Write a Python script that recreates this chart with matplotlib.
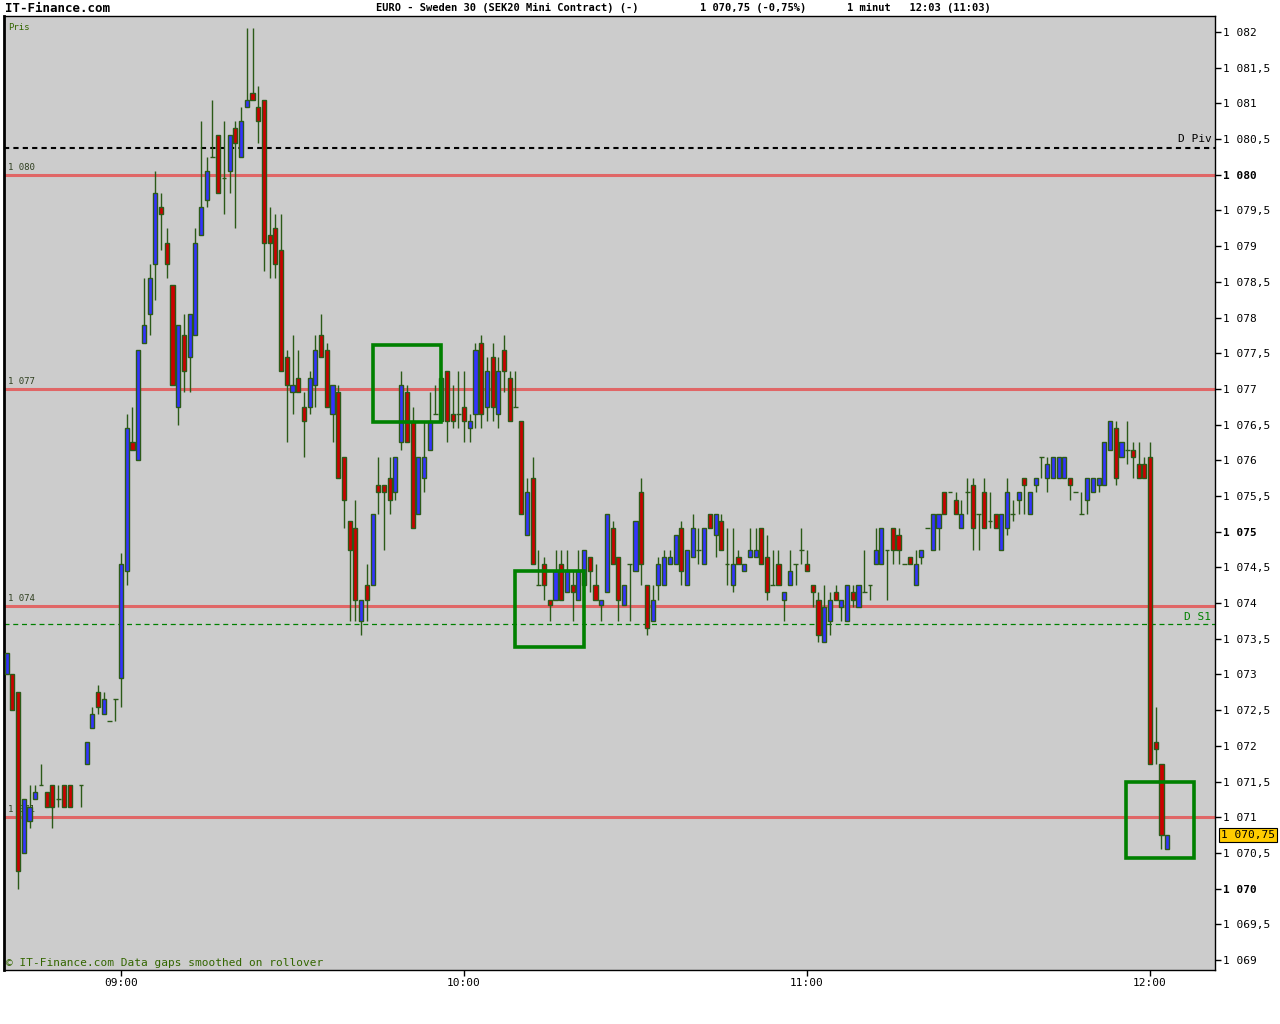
import numpy as np
import matplotlib.pyplot as plt
from matplotlib.patches import Rectangle
import matplotlib.transforms as mtransforms

# 1-minute candles, first one at 08:40 (index 12 = no trade)
opens = [1073.0, 1073.0, 1072.75, 1070.5, 1070.95, 1071.25, 1071.45, 1071.35, 1071.45, 1071.25,
         1071.45, 1071.45, None, 1071.45, 1071.75, 1072.25, 1072.75, 1072.45, 1072.35, 1072.65,
         1072.95, 1074.45, 1076.25, 1076.0, 1077.65, 1078.05, 1078.75, 1079.55, 1079.05, 1078.45,
         1076.75, 1077.75, 1077.45, 1077.75, 1079.15, 1079.65, 1080.25, 1080.55, 1079.95, 1080.05,
         1080.65, 1080.25, 1080.95, 1081.15, 1080.95, 1081.05, 1079.15, 1079.25, 1078.95, 1077.45,
         1076.95, 1077.15, 1076.75, 1076.75, 1077.05, 1077.75, 1077.55, 1076.65, 1076.95, 1076.05,
         1075.15, 1075.05, 1073.75, 1074.25, 1074.25, 1075.65, 1075.65, 1075.75, 1075.55, 1076.25,
         1076.95, 1076.55, 1075.25, 1075.75, 1076.15, 1076.65, 1076.55, 1077.25, 1076.65, 1076.65,
         1076.75, 1076.45, 1076.65, 1077.65, 1076.75, 1077.45, 1076.65, 1077.55, 1077.15, 1076.75,
         1076.55, 1074.95, 1075.75, 1074.25, 1074.55, 1074.05, 1074.05, 1074.55, 1074.15, 1074.25,
         1074.05, 1074.25, 1074.65, 1074.25, 1073.98, 1074.15, 1075.05, 1074.65, 1073.98, 1074.55,
         1074.45, 1075.55, 1074.25, 1073.75, 1074.25, 1074.25, 1074.55, 1074.55, 1075.05, 1074.25,
         1074.65, 1074.75, 1074.55, 1075.25, 1074.95, 1075.15, 1074.55, 1074.25, 1074.65, 1074.45,
         1074.65, 1074.65, 1075.05, 1074.65, 1074.25, 1074.55, 1074.05, 1074.25, 1074.55, 1074.75,
         1074.55, 1074.25, 1074.05, 1073.45, 1073.75, 1074.15, 1073.95, 1073.75, 1074.15, 1073.95,
         1074.15, 1074.25, 1074.55, 1074.55, 1074.75, 1075.05, 1074.95, 1074.55, 1074.65, 1074.25,
         1074.65, 1075.05, 1074.75, 1075.05, 1075.55, 1075.55, 1075.45, 1075.05, 1075.55, 1075.65,
         1075.25, 1075.55, 1075.15, 1075.25, 1074.75, 1075.05, 1075.25, 1075.45, 1075.75, 1075.25,
         1075.65, 1076.05, 1075.75, 1075.75, 1075.75, 1075.75, 1075.75, 1075.55, 1075.25, 1075.45,
         1075.55, 1075.65, 1075.65, 1076.15, 1076.45, 1076.05, 1076.15, 1076.15, 1075.95, 1075.95,
         1076.05, 1072.05, 1071.75, 1070.55]
highs = [1073.3, 1073.0, 1072.75, 1071.25, 1071.45, 1071.45, 1071.75, 1071.35, 1071.45, 1071.45,
         1071.45, 1071.45, None, 1071.45, 1072.05, 1072.55, 1072.85, 1072.75, 1072.35, 1072.65,
         1074.7, 1076.65, 1076.75, 1077.55, 1078.55, 1078.75, 1080.05, 1079.75, 1079.25, 1078.45,
         1077.9, 1078.05, 1078.05, 1079.25, 1080.75, 1080.25, 1081.05, 1080.55, 1080.75, 1080.55,
         1080.75, 1080.95, 1082.05, 1082.05, 1081.25, 1081.05, 1079.55, 1079.45, 1079.45, 1077.55,
         1077.75, 1077.55, 1076.95, 1077.25, 1077.75, 1078.05, 1077.65, 1077.05, 1077.05, 1076.05,
         1075.15, 1075.45, 1074.05, 1074.55, 1075.25, 1076.05, 1075.65, 1076.05, 1076.05, 1077.25,
         1077.05, 1076.75, 1076.05, 1076.55, 1076.95, 1077.05, 1077.25, 1077.25, 1077.05, 1077.25,
         1077.25, 1076.65, 1077.65, 1077.75, 1077.45, 1077.65, 1077.45, 1077.75, 1077.25, 1077.25,
         1076.55, 1075.75, 1076.05, 1074.75, 1074.65, 1074.05, 1074.75, 1074.75, 1074.75, 1074.45,
         1074.75, 1074.75, 1074.65, 1074.55, 1074.05, 1075.25, 1075.15, 1074.65, 1074.25, 1074.55,
         1075.15, 1075.75, 1074.25, 1074.25, 1074.65, 1074.75, 1074.75, 1074.95, 1075.15, 1074.75,
         1075.25, 1075.05, 1075.05, 1075.25, 1075.25, 1075.25, 1075.05, 1075.05, 1074.75, 1074.55,
         1075.05, 1075.05, 1075.05, 1074.95, 1074.75, 1074.75, 1074.15, 1074.75, 1074.55, 1075.05,
         1074.75, 1074.25, 1074.15, 1074.25, 1074.15, 1074.25, 1074.05, 1074.25, 1074.25, 1074.25,
         1074.75, 1074.25, 1075.05, 1075.05, 1074.75, 1075.05, 1075.05, 1074.55, 1074.65, 1074.75,
         1074.75, 1075.05, 1075.25, 1075.25, 1075.55, 1075.55, 1075.55, 1075.45, 1075.75, 1075.75,
         1075.25, 1075.75, 1075.55, 1075.25, 1075.25, 1075.75, 1075.45, 1075.55, 1075.75, 1075.55,
         1075.75, 1076.05, 1076.05, 1076.05, 1076.05, 1076.05, 1075.75, 1075.55, 1075.55, 1075.75,
         1075.75, 1075.75, 1076.25, 1076.55, 1076.55, 1076.25, 1076.55, 1076.25, 1076.25, 1076.05,
         1076.25, 1072.55, 1071.75, 1070.75]
lows = [1073.0, 1072.5, 1070.0, 1070.5, 1070.85, 1071.25, 1071.45, 1071.15, 1070.85, 1071.15,
        1071.15, 1071.15, None, 1071.15, 1071.75, 1072.25, 1072.45, 1072.45, 1072.35, 1072.35,
        1072.55, 1074.25, 1076.15, 1076.0, 1077.65, 1077.75, 1078.25, 1078.95, 1078.55, 1077.05,
        1076.5, 1076.95, 1076.95, 1077.75, 1079.15, 1079.55, 1080.25, 1079.75, 1079.45, 1079.75,
        1079.25, 1080.25, 1080.95, 1081.05, 1080.45, 1078.65, 1078.55, 1078.55, 1077.25, 1076.25,
        1076.65, 1076.95, 1076.05, 1076.65, 1076.75, 1077.45, 1076.75, 1076.25, 1075.75, 1075.05,
        1073.75, 1073.75, 1073.55, 1073.75, 1074.25, 1075.25, 1074.75, 1075.25, 1075.45, 1076.15,
        1076.25, 1075.05, 1075.25, 1075.55, 1076.15, 1076.65, 1076.55, 1076.25, 1076.45, 1076.45,
        1076.25, 1076.25, 1076.45, 1076.45, 1076.55, 1076.55, 1076.45, 1076.95, 1076.55, 1076.75,
        1075.25, 1074.95, 1074.55, 1074.25, 1074.05, 1073.75, 1074.05, 1074.05, 1074.15, 1073.75,
        1074.05, 1074.25, 1074.15, 1074.05, 1073.75, 1074.15, 1074.55, 1073.75, 1073.98, 1073.75,
        1074.45, 1074.25, 1073.55, 1073.75, 1074.05, 1074.25, 1074.55, 1074.55, 1074.25, 1074.25,
        1074.65, 1074.55, 1074.55, 1075.05, 1074.65, 1074.75, 1074.25, 1074.15, 1074.55, 1074.45,
        1074.65, 1074.65, 1074.55, 1074.05, 1074.25, 1074.25, 1073.75, 1074.25, 1074.25, 1074.55,
        1074.45, 1073.95, 1073.45, 1073.45, 1073.55, 1074.05, 1073.75, 1073.75, 1073.95, 1073.95,
        1074.15, 1074.05, 1074.55, 1074.55, 1074.05, 1074.55, 1074.55, 1074.55, 1074.55, 1074.25,
        1074.55, 1075.05, 1074.75, 1074.75, 1075.25, 1075.55, 1075.25, 1075.05, 1075.25, 1074.75,
        1074.75, 1075.05, 1075.05, 1075.05, 1074.75, 1074.95, 1075.15, 1075.25, 1075.25, 1075.25,
        1075.55, 1075.75, 1075.55, 1075.75, 1075.75, 1075.75, 1075.45, 1075.55, 1075.25, 1075.25,
        1075.55, 1075.55, 1075.65, 1076.15, 1075.65, 1076.05, 1075.95, 1075.75, 1075.75, 1075.75,
        1071.75, 1071.75, 1070.55, 1070.55]
closes = [1073.3, 1072.5, 1070.25, 1071.25, 1071.15, 1071.35, 1071.45, 1071.15, 1071.15, 1071.25,
          1071.15, 1071.15, None, 1071.45, 1072.05, 1072.45, 1072.55, 1072.65, 1072.35, 1072.65,
          1074.55, 1076.45, 1076.15, 1077.55, 1077.9, 1078.55, 1079.75, 1079.45, 1078.75, 1077.05,
          1077.9, 1077.25, 1078.05, 1079.05, 1079.55, 1080.05, 1080.25, 1079.75, 1079.95, 1080.55,
          1080.45, 1080.75, 1081.05, 1081.05, 1080.75, 1079.05, 1079.05, 1078.75, 1077.25, 1077.05,
          1077.05, 1076.95, 1076.55, 1077.15, 1077.55, 1077.45, 1076.75, 1077.05, 1075.75, 1075.45,
          1074.75, 1074.05, 1074.05, 1074.05, 1075.25, 1075.55, 1075.55, 1075.45, 1076.05, 1077.05,
          1076.25, 1075.05, 1076.05, 1076.05, 1076.55, 1076.65, 1077.15, 1076.55, 1076.55, 1076.65,
          1076.55, 1076.55, 1077.55, 1076.65, 1077.25, 1076.75, 1077.25, 1077.25, 1076.55, 1076.75,
          1075.25, 1075.55, 1074.55, 1074.25, 1074.25, 1073.98, 1074.45, 1074.05, 1074.45, 1074.15,
          1074.45, 1074.75, 1074.45, 1074.05, 1074.05, 1075.25, 1074.55, 1074.05, 1074.25, 1074.55,
          1075.15, 1074.55, 1073.65, 1074.05, 1074.55, 1074.65, 1074.65, 1074.95, 1074.45, 1074.75,
          1075.05, 1074.75, 1075.05, 1075.05, 1075.25, 1074.75, 1074.55, 1074.55, 1074.55, 1074.55,
          1074.75, 1074.75, 1074.55, 1074.15, 1074.25, 1074.25, 1074.15, 1074.45, 1074.55, 1074.75,
          1074.45, 1074.15, 1073.55, 1073.95, 1074.05, 1074.05, 1074.05, 1074.25, 1074.05, 1074.25,
          1074.15, 1074.25, 1074.75, 1075.05, 1074.75, 1074.75, 1074.75, 1074.55, 1074.55, 1074.55,
          1074.75, 1075.05, 1075.25, 1075.25, 1075.25, 1075.55, 1075.25, 1075.25, 1075.55, 1075.05,
          1075.25, 1075.05, 1075.15, 1075.05, 1075.25, 1075.55, 1075.25, 1075.55, 1075.65, 1075.55,
          1075.75, 1076.05, 1075.95, 1076.05, 1076.05, 1076.05, 1075.65, 1075.55, 1075.25, 1075.75,
          1075.75, 1075.75, 1076.25, 1076.55, 1075.75, 1076.25, 1076.15, 1076.05, 1075.75, 1075.75,
          1071.75, 1071.95, 1070.75, 1070.75]

# horizontal levels
red_levels = [1080.0, 1077.0, 1073.96, 1071.0]
red_labels = ['1 080', '1 077', '1 074', '1 071']
d_piv = 1080.375
d_s1 = 1073.71
last_price = 1070.75

time_ticks = [20, 80, 140, 200]
time_labels = ['09:00', '10:00', '11:00', '12:00']

def num(v):
    return np.nan if v is None else v

o = np.array([num(v) for v in opens])
h = np.array([num(v) for v in highs])
l = np.array([num(v) for v in lows])
c = np.array([num(v) for v in closes])
x = np.arange(len(o))

edge = '#2B5A18'
blue = '#3333FF'
red = '#CC0000'
mono = 'DejaVu Sans Mono'

fig = plt.figure(figsize=(12.8, 10.24), dpi=100)
ax = fig.add_axes([4 / 1280, 1 - 970 / 1024, 1211 / 1280, 954 / 1024])
ax.set_facecolor('#CCCCCC')

# levels
for lv in red_levels:
    ax.axhline(lv, color='#E06666', lw=2.2, zorder=1)
ax.axhline(d_piv, color='black', lw=1.5, ls=(0, (2.5, 2)), zorder=1)
ax.axhline(d_s1, color='#008000', lw=0.9, ls=(0, (4, 3)), zorder=1)

# candles
valid = ~np.isnan(o)
up = valid & (c > o)
down = valid & (c < o)
flat = valid & (c == o)
ax.vlines(x[valid], l[valid], h[valid], color=edge, lw=1.0, zorder=2)
ax.bar(x[up], (c - o)[up], bottom=o[up], width=0.72, color=blue,
       edgecolor=edge, lw=1.0, zorder=3)
ax.bar(x[down], (o - c)[down], bottom=c[down], width=0.72, color=red,
       edgecolor=edge, lw=1.0, zorder=3)
ax.hlines(o[flat], x[flat] - 0.42, x[flat] + 0.42, color=edge, lw=1.0, zorder=3)

# highlight boxes
for (x0, x1, y0, y1) in [(64.1, 76.0, 1076.54, 1077.615),
                         (88.9, 101.0, 1073.385, 1074.45),
                         (195.8, 207.7, 1070.43, 1071.49)]:
    ax.add_patch(Rectangle((x0, y0), x1 - x0, y1 - y0, fill=False,
                           edgecolor='#008000', lw=2.6, zorder=4))

ax.set_xlim(-0.47, 211.36)
ax.set_ylim(1068.86, 1082.224)

# axes styling
for s in ax.spines.values():
    s.set_color('black')
    s.set_linewidth(1.0)
ax.spines['left'].set_linewidth(2.0)

ax.yaxis.tick_right()
yt = np.arange(1069.0, 1082.01, 0.5)
ax.set_yticks(yt)
ylabels = []
for v in yt:
    s = f'{v:.1f}'.replace('.', ',')
    s = s[:-2] if s.endswith(',0') else s
    ylabels.append(s[0] + ' ' + s[1:])
ax.set_yticklabels(ylabels, fontfamily=mono, fontsize=8)
for v, t in zip(yt, ax.get_yticklabels()):
    if v % 5 == 0:
        t.set_fontweight('bold')
ax.tick_params(axis='y', length=4, width=1, pad=2, colors='black')

ax.set_xticks(time_ticks)
ax.set_xticklabels(time_labels, fontfamily=mono, fontsize=8)
ax.tick_params(axis='x', length=4, width=1, pad=2)

blend = mtransforms.blended_transform_factory(ax.transAxes, ax.transData)
for lv, lab in zip(red_levels, red_labels):
    ax.text(0.003, lv + 0.04, lab, transform=blend, fontfamily=mono, fontsize=6.5,
            color='#2F3F1F', va='bottom', ha='left', zorder=1.5)
ax.text(0.997, d_piv + 0.05, 'D Piv', transform=blend, fontfamily=mono, fontsize=8,
        color='black', va='bottom', ha='right')
ax.text(0.997, d_s1 + 0.03, 'D S1', transform=blend, fontfamily=mono, fontsize=8,
        color='#008000', va='bottom', ha='right')
ax.text(1.005, last_price, '1 070,75', transform=blend, fontfamily=mono, fontsize=8,
        va='center', ha='left', clip_on=False,
        bbox=dict(boxstyle='square,pad=0.15', fc='#FFCC00', ec='black', lw=0.8))

ax.text(0.003, 0.993, 'Pris', transform=ax.transAxes, fontfamily=mono, fontsize=6.5,
        color='#336600', va='top', ha='left')
ax.text(0.002, 0.002, '\u00a9 IT-Finance.com Data gaps smoothed on rollover',
        transform=ax.transAxes, fontfamily=mono, fontsize=8, color='#336600',
        va='bottom', ha='left')

# header
ty = 1 - 8 / 1024
fig.text(5 / 1280, ty, 'IT-Finance.com', fontfamily=mono, fontweight='bold',
         fontsize=9, va='center', ha='left')
fig.text(376 / 1280, ty, 'EURO - Sweden 30 (SEK20 Mini Contract) (-)', fontfamily=mono,
         fontweight='bold', fontsize=7.5, va='center', ha='left')
fig.text(700 / 1280, ty, '1 070,75 (-0,75%)', fontfamily=mono, fontweight='bold',
         fontsize=7.5, va='center', ha='left')
fig.text(847 / 1280, ty, '1 minut   12:03 (11:03)', fontfamily=mono, fontweight='bold',
         fontsize=7.5, va='center', ha='left')

fig.savefig('out.png', dpi=100, facecolor='white')
